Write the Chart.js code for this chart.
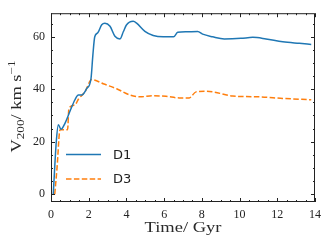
<!DOCTYPE html>
<html>
<head>
<meta charset="utf-8">
<script src="https://cdn.jsdelivr.net/npm/chart.js@4/dist/chart.umd.min.js"></script>
<style>
  html, body { margin: 0; padding: 0; background: #fff; }
  #wrap { width: 332px; height: 252px; }
</style>
</head>
<body>
<div id="wrap"><canvas id="myChart" width="332" height="252"></canvas></div>
<script>
// D1 (solid blue)
var timeD1 = [0.12, 0.28, 0.39, 0.53, 0.74, 1.0, 1.27, 1.45, 1.63, 1.89, 2.12, 2.22, 2.32, 2.48, 2.69, 2.86, 3.13, 3.39, 3.66, 3.84, 4.0, 4.36, 4.54, 4.98, 5.42, 5.95, 6.5, 6.72, 7.19, 7.78, 8.04, 8.57, 9.19, 10.07, 10.7, 11.4, 12.29, 13.17, 13.8];
var velD1 = [0, 20, 26.5, 24.7, 27, 31.5, 36, 37.8, 37.8, 40.2, 44, 53, 60, 61.5, 64.6, 65.2, 64, 60.2, 59.2, 62, 64.5, 65.9, 65.2, 62.1, 60.5, 60, 60, 61.7, 61.9, 62, 61, 60, 59.2, 59.4, 59.8, 59.2, 58.1, 57.5, 57.1];
// D3 (dashed orange)
var timeD3 = [0.2, 0.32, 0.48, 0.88, 0.95, 1.27, 1.45, 1.8, 2.16, 2.3, 2.77, 3.48, 4.19, 4.72, 5.42, 6.1, 6.8, 7.33, 7.69, 8.22, 8.66, 9.63, 11.04, 12.29, 13.8];
var velD3 = [0, 10, 24.6, 24.6, 32.7, 34, 36.2, 39, 43.7, 43.5, 42.1, 40.2, 37.8, 37.1, 37.5, 37.3, 36.7, 36.7, 39, 39.2, 38.9, 37.4, 37.1, 36.5, 36];

var seriesNames = ["D1", "D3"];
var xTicks = [0, 2, 4, 6, 8, 10, 12, 14];
var yTicks = [0, 20, 40, 60];

function pts(xs, ys) {
    return xs.map(function (x, i) { return { x: x, y: ys[i] }; });
}

var serif = "'Liberation Serif', 'DejaVu Serif', serif";

// draws pieces of text one after another, squeezed/stretched to a given width
function drawPieces(c, parts, cx, cy, width) {
    var total = 0;
    parts.forEach(function (p) { c.font = p.f + serif; total += c.measureText(p.t).width; });
    c.save();
    c.translate(cx, cy);
    c.scale(width / total, 1);
    var x0 = -total / 2;
    c.textAlign = "left";
    c.textBaseline = "alphabetic";
    parts.forEach(function (p) {
        c.font = p.f + serif;
        c.fillText(p.t, x0, p.dy);
        x0 += c.measureText(p.t).width;
    });
    c.restore();
}

/* frame, inward ticks, axis titles and legend */
var framePlugin = {
    id: "frame",
    afterDraw: function (chart) {
        var c = chart.ctx, a = chart.chartArea;
        var xs = chart.scales.x, ys = chart.scales.y;
        c.save();
        c.strokeStyle = "#222";
        c.lineWidth = 1;
        c.strokeRect(a.left + 0.5, a.top + 0.5, a.right - a.left - 1, a.bottom - a.top - 1);

        c.beginPath();
        for (var t = 0; t <= 14.001; t += 0.5) {
            var px = Math.round(xs.getPixelForValue(t)) + 0.5;
            var len = (Math.abs(t % 2) < 1e-6) ? 4 : 2;
            c.moveTo(px, a.bottom); c.lineTo(px, a.bottom - len);
            c.moveTo(px, a.top); c.lineTo(px, a.top + len);
        }
        for (var v = 0; v <= 69; v += 5) {
            var py = Math.round(ys.getPixelForValue(v)) + 0.5;
            var l2 = (v % 20 === 0) ? 4 : 2;
            c.moveTo(a.left, py); c.lineTo(a.left + l2, py);
            c.moveTo(a.right, py); c.lineTo(a.right - l2, py);
        }
        c.stroke();

        c.fillStyle = "#2a2a2a";
        // x title
        drawPieces(c, [{ t: "Time/ Gyr", f: "14px ", dy: 0 }], (a.left + a.right) / 2, 232, 77);

        // y title with sub/superscript
        c.save();
        c.translate(21, 0);
        c.rotate(-Math.PI / 2);
        drawPieces(c, [
            { t: "V", f: "14px ", dy: 0 },
            { t: "200", f: "10px ", dy: 3 },
            { t: "/ km s", f: "14px ", dy: 0 },
            { t: "\u22121", f: "10px ", dy: -6 }
        ], -106.5, 0, 92);
        c.restore();

        // legend
        c.font = "13px 'DejaVu Sans', sans-serif";
        c.textAlign = "left";
        c.textBaseline = "middle";
        chart.data.datasets.forEach(function (ds, i) {
            var ly = 154.5 + i * 24.5;
            c.strokeStyle = ds.borderColor;
            c.lineWidth = ds.borderWidth;
            c.setLineDash(ds.borderDash || []);
            c.beginPath();
            c.moveTo(66, ly); c.lineTo(101, ly);
            c.stroke();
            c.setLineDash([]);
            c.fillStyle = "#222";
            c.fillText(ds.label, 113, ly + 1);
        });
        c.restore();
    }
};

new Chart("myChart", {
    type: "line",
    data: {
        datasets: [{
            label: seriesNames[0],
            data: pts(timeD1, velD1),
            borderColor: "#1f77b4",
            borderWidth: 1.5,
            pointRadius: 0,
            cubicInterpolationMode: "monotone",
            fill: false
        }, {
            label: seriesNames[1],
            data: pts(timeD3, velD3),
            borderColor: "#ff7f0e",
            borderWidth: 1.5,
            borderDash: [5.5, 2.4],
            pointRadius: 0,
            cubicInterpolationMode: "monotone",
            fill: false
        }]
    },
    options: {
        responsive: false,
        animation: false,
        layout: { padding: { left: 0, right: 17, top: 10, bottom: 0 } },
        plugins: { legend: { display: false }, tooltip: { enabled: false } },
        scales: {
            x: {
                type: "linear", min: 0, max: 14,
                grid: { display: false, drawTicks: false },
                border: { display: false },
                afterBuildTicks: function (s) { s.ticks = xTicks.map(function (v) { return { value: v }; }); },
                afterFit: function (s) { s.height = 50; },
                ticks: { padding: 6, color: "#222", font: { family: serif, size: 12 }, maxRotation: 0 }
            },
            y: {
                type: "linear", min: -3, max: 69,
                grid: { display: false, drawTicks: false },
                border: { display: false },
                afterBuildTicks: function (s) { s.ticks = yTicks.map(function (v) { return { value: v }; }); },
                afterFit: function (s) { s.width = 51; },
                ticks: { padding: 6, color: "#222", font: { family: serif, size: 12 } }
            }
        }
    },
    plugins: [framePlugin]
});
</script>
</body>
</html>
